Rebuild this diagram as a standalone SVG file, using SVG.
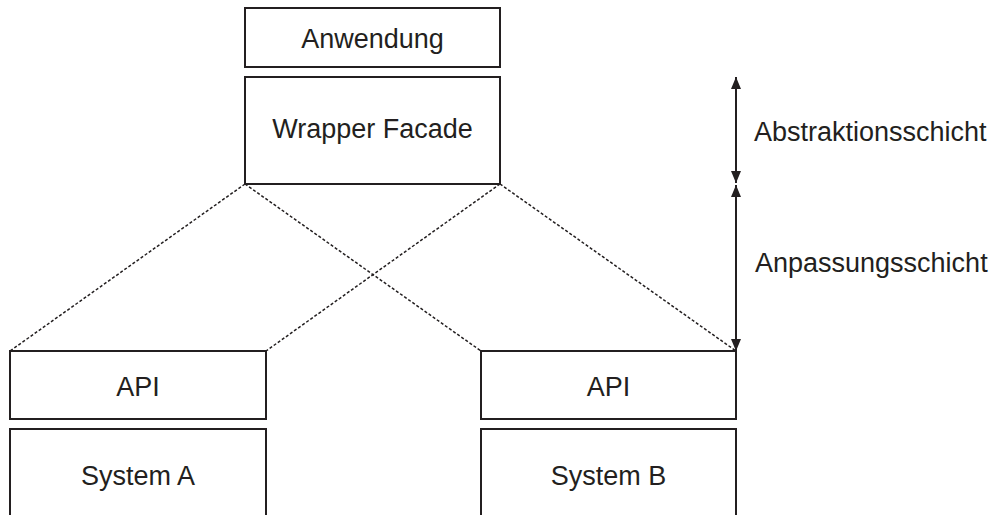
<svg xmlns="http://www.w3.org/2000/svg" width="997" height="515" viewBox="0 0 997 515">
<style>
.box{fill:#fff;stroke:#231f20;stroke-width:2}
.t{font-family:"Liberation Sans",Arial,sans-serif;font-size:27px;fill:#231f20}
.m{text-anchor:middle}
.d{stroke:#231f20;stroke-width:1.5;stroke-dasharray:3 2;fill:none}
.a{stroke:#231f20;stroke-width:2;fill:none}
</style>
<defs>
<marker id="ah" viewBox="0 0 12 10" refX="12" refY="5" markerWidth="12" markerHeight="10" markerUnits="userSpaceOnUse" orient="auto">
<path d="M0,0 L12,5 L0,10 Z" fill="#231f20"/>
</marker>
</defs>
<rect width="997" height="515" fill="#fff"/>
<g id="connectors">
<line class="d" x1="245" y1="184" x2="10" y2="351"/>
<line class="d" x1="245" y1="184" x2="481" y2="351"/>
<line class="d" x1="500" y1="184" x2="266" y2="351"/>
<line class="d" x1="500" y1="184" x2="736" y2="351"/>
<line class="a" x1="736" y1="130" x2="736" y2="77" marker-end="url(#ah)"/>
<line class="a" x1="736" y1="130" x2="736" y2="183" marker-end="url(#ah)"/>
<line class="a" x1="736" y1="268" x2="736" y2="185" marker-end="url(#ah)"/>
<line class="a" x1="736" y1="268" x2="736" y2="351" marker-end="url(#ah)"/>
</g>
<g id="anwendung">
<rect class="box" x="245" y="8" width="255" height="59"/>
<text class="t m" x="372.5" y="48">Anwendung</text>
</g>
<g id="wrapper">
<rect class="box" x="245" y="77" width="255" height="107"/>
<text class="t m" x="372.5" y="138">Wrapper Facade</text>
</g>
<g id="apiA">
<rect class="box" x="10" y="351" width="256" height="68"/>
<text class="t m" x="138" y="396">API</text>
</g>
<g id="systemA">
<path class="box" d="M10,520 V429 H266 V520"/>
<text class="t m" x="138" y="485">System A</text>
</g>
<g id="apiB">
<rect class="box" x="481" y="351" width="255" height="68"/>
<text class="t m" x="608.5" y="396">API</text>
</g>
<g id="systemB">
<path class="box" d="M481,520 V429 H736 V520"/>
<text class="t m" x="608.5" y="485">System B</text>
</g>
<g id="labels">
<text class="t" x="754" y="141">Abstraktionsschicht</text>
<text class="t" x="755" y="272">Anpassungsschicht</text>
</g>
</svg>
